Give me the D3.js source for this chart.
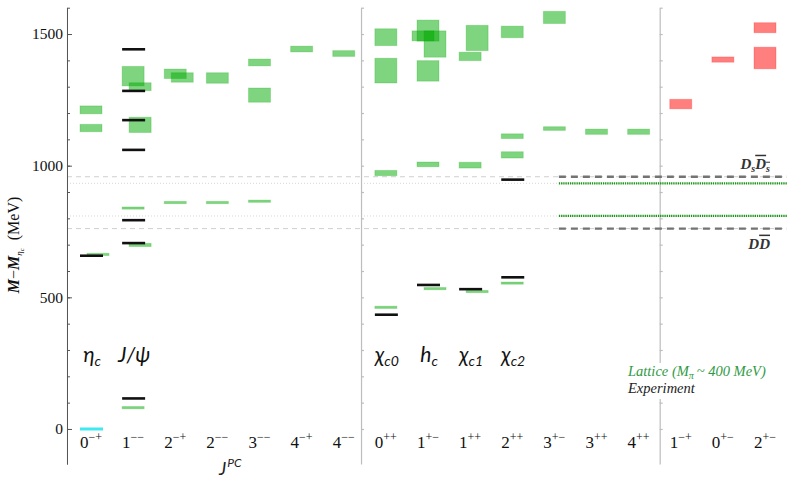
<!DOCTYPE html>
<html>
<head>
<meta charset="utf-8">
<script src="https://cdn.jsdelivr.net/npm/d3@7"></script>
<style>
  body { margin: 0; background: #fff; }
  svg { display: block; }
  .serif { font-family: "Liberation Serif", "Times New Roman", Times, serif; }
  .sans { font-family: Lato, "Open Sans", sans-serif; }
</style>
</head>
<body>
<svg id="chart" width="787" height="482"></svg>
<script>
// J^PC channels, left to right; dividers follow the last entry of each panel
const categories = ["0-+","1--","2-+","2--","3--","4-+","4--",
                    "0++","1+-","1++","2++","3+-","3++","4++",
                    "1-+","0+-","2+-"];
const panelEnds = ["4--","4++"];

// Experimental masses, M - M(eta_c) in MeV
const experiment = [
  ["0-+",658],
  ["1--",116],["1--",706],["1--",793],["1--",1060],["1--",1173],["1--",1284],["1--",1442],
  ["0++",434],["1+-",547],["1++",531],["2++",576],["2++",947]
];
const groundState = [["0-+",0]];

// Lattice masses [J^PC, mass, uncertainty] in MeV
const lattice = [
  ["0-+",1212,15],["0-+",1143,14],["0-+",663,2],
  ["1--",1340,37],["1--",1300,15],["1--",1155,29],["1--",839,4],["1--",699,6],["1--",81,1.5],
  ["2-+",1349,18],["2-+",1335,18],["2-+",860,4],
  ["2--",1333,20],["2--",860,4],
  ["3--",1392,13],["3--",1268,27],["3--",865,4],
  ["4-+",1443,11],
  ["4--",1426,11],
  ["0++",1488,32],["0++",1361,47],["0++",972,10],["0++",462,2],
  ["1+-",1513,40],["1+-",1462,50],["1+-",1493,19],["1+-",1360,39],["1+-",1005,9],["1+-",533,2],
  ["1++",1415,16],["1++",1485,48],["1++",1002,11],["1++",522,2],
  ["2++",1508,22],["2++",1112,9],["2++",1041,12],["2++",554,2],
  ["3+-",1563,23],["3+-",1141,7],
  ["3++",1129,10],
  ["4++",1129,10]
];
// Exotic J^PC lattice states
const exotics = [["1-+",1234,18],["0+-",1403,10],["2+-",1524,19],["2+-",1409,41]];

// Names written under the low-lying states: [J^PC, symbol, subscript]
const stateNames = [["0-+","η","c"],["1--","J/ψ",""],["0++","χ","c0"],["1+-","h","c"],["1++","χ","c1"],["2++","χ","c2"]];

// Open-charm thresholds (experiment) and their lattice counterparts
const thresholds = [["D","s",958],["D","",761]];
const latticeThresholds = [933, 809];

const yTicks = [0, 500, 1000, 1500];
const yMinor = d3.range(0, 1601, 100);

// ---- layout ----
const svg = d3.select("#chart");
const x = d3.scalePoint().domain(categories).range([91, 765]);
const step = x.step();
const y = d3.scaleLinear().domain([-133, 1600]).range([464, 7.7]);
const axisX = x(categories[0]) - 0.57 * step;
const dividerFrac = [0.41, 0.5];
const BOX_W = 22, LINE_W = 23, SHIFT_R = 7, SHIFT_L = -5;
const GREEN = "rgb(0,170,0)", RED = "rgb(255,0,0)";
const disp = s => s.replace(/-/g, "\u2212");

// Displace a lattice mark sideways when it would sit on an experimental
// level or on another lattice box in the same column.
function placeMarks(list) {
  const byCol = d3.group(list, d => d[0]);
  const out = [];
  for (const [col, items] of byCol) {
    const exps = experiment.filter(e => e[0] === col).map(e => e[1]);
    const placed = [];
    for (const [c, m, e] of items) {
      const lo = m - e, hi = m + e;
      const hits = slot => placed.some(p => p.slot === slot && p.lo - 8 <= hi + 8 && lo - 8 <= p.hi + 8);
      const nearExp = exps.some(v => v >= lo - 15 && v <= hi + 15);
      let slot = 0;
      if (nearExp || hits(0)) slot = hits(1) ? -1 : 1;
      placed.push({ lo, hi, slot });
      out.push({ c, m, e, slot });
    }
  }
  return out;
}
const shiftPx = s => s === 1 ? SHIFT_R : s === -1 ? SHIFT_L : 0;

// ---- threshold guide lines across the whole plot ----
const guides = svg.append("g");
thresholds.forEach(t => guides.append("line")
  .attr("x1", axisX).attr("x2", 787).attr("y1", y(t[2])).attr("y2", y(t[2]))
  .attr("stroke", "#cfcfcf").attr("stroke-width", 1).attr("stroke-dasharray", "5,4"));
latticeThresholds.forEach(v => guides.append("line")
  .attr("x1", axisX).attr("x2", 787).attr("y1", y(v)).attr("y2", y(v))
  .attr("stroke", "#d6d6d6").attr("stroke-width", 1).attr("stroke-dasharray", "1,2"));

// ---- axes ----
const leftAxis = svg.append("g").attr("transform", `translate(${axisX},0)`);
leftAxis.call(d3.axisLeft(y).tickValues(yMinor).tickSizeInner(-3).tickSizeOuter(0).tickFormat(""));
leftAxis.call(g => g.append("g").call(d3.axisLeft(y).tickValues(yTicks).tickFormat(d3.format("d"))
  .tickSizeInner(-5).tickSizeOuter(0).tickPadding(4)));
leftAxis.selectAll("path,line").attr("stroke", "#555").attr("stroke-width", 1);
leftAxis.selectAll("g").attr("font-family", null);
leftAxis.attr("font-family", null);
leftAxis.selectAll("text").attr("class", "serif").attr("font-size", 15.5).attr("fill", "#111");

panelEnds.forEach((c, i) => {
  const px = x(c) + dividerFrac[i] * step;
  const g = svg.append("g").attr("transform", `translate(${px},0)`);
  g.call(d3.axisLeft(y).tickValues(yMinor).tickSizeInner(-3).tickSizeOuter(0).tickFormat(""));
  g.selectAll("path,line").attr("stroke", "#bdbdbd").attr("stroke-width", 1.2);
});

// ---- lattice boxes ----
function drawBoxes(list, color) {
  const hgt = d => Math.max(y(d.m - d.e) - y(d.m + d.e), 2.2);
  svg.append("g").selectAll("rect").data(placeMarks(list)).join("rect")
    .attr("x", d => x(d.c) - BOX_W / 2 + shiftPx(d.slot))
    .attr("width", BOX_W)
    .attr("y", d => y(d.m) - hgt(d) / 2)
    .attr("height", hgt)
    .attr("fill", color).attr("fill-opacity", 0.5)
    .attr("stroke", color).attr("stroke-opacity", 0.22).attr("stroke-width", 1);
}
drawBoxes(lattice, GREEN);
drawBoxes(exotics, RED);

// ---- experimental levels ----
svg.append("g").selectAll("line").data(experiment).join("line")
  .attr("x1", d => x(d[0]) - BOX_W / 2).attr("x2", d => x(d[0]) - BOX_W / 2 + LINE_W)
  .attr("y1", d => y(d[1])).attr("y2", d => y(d[1]))
  .attr("stroke", "#111").attr("stroke-width", 2.6);
svg.append("g").selectAll("line").data(groundState).join("line")
  .attr("x1", d => x(d[0]) - BOX_W / 2).attr("x2", d => x(d[0]) - BOX_W / 2 + LINE_W)
  .attr("y1", d => y(d[1])).attr("y2", d => y(d[1]))
  .attr("stroke", "#3fe9f2").attr("stroke-width", 3);

// ---- thresholds in the right-hand region ----
const thrX0 = x("3+-") + 4.5;
thresholds.forEach(t => svg.append("line")
  .attr("x1", thrX0).attr("x2", 787).attr("y1", y(t[2])).attr("y2", y(t[2]))
  .attr("stroke", "#737373").attr("stroke-width", 2.4).attr("stroke-dasharray", "7,5"));
latticeThresholds.forEach(v => svg.append("line")
  .attr("x1", thrX0).attr("x2", 787).attr("y1", y(v)).attr("y2", y(v))
  .attr("stroke", "#1a961a").attr("stroke-width", 2.2).attr("stroke-dasharray", "1.3,0.9"));

thresholds.forEach((t, i) => {
  const tx = svg.append("text").attr("class", "serif").attr("x", 770).attr("y", y(t[2]) + (i === 0 ? -8 : 20))
    .attr("text-anchor", "end").attr("font-style", "italic")
    .attr("font-weight", "bold").attr("font-size", 15).attr("fill", "#333");
  tx.append("tspan").text(t[0]);
  if (t[1]) tx.append("tspan").attr("font-size", 10).attr("dy", 3).text(t[1]);
  const bar = tx.append("tspan").attr("dy", t[1] ? -3 : 0).style("text-decoration", "overline");
  bar.append("tspan").text(t[0]);
  if (t[1]) bar.append("tspan").attr("font-size", 10).attr("dy", 3).text(t[1]);
});

// ---- x tick labels ----
svg.append("g").selectAll("text").data(categories).join("text")
  .attr("class", "serif")
  .attr("x", d => x(d)).attr("y", 448).attr("text-anchor", "middle")
  .attr("font-size", 17).attr("fill", "#111")
  .each(function (d) {
    const t = d3.select(this);
    t.append("tspan").text(d[0]);
    t.append("tspan").attr("font-size", 12).attr("dy", -7).text(disp(d.slice(1)));
  });

const jpc = svg.append("text").attr("class", "sans").attr("x", 219).attr("y", 475)
  .attr("font-style", "italic").attr("font-size", 18).attr("fill", "#222");
jpc.append("tspan").text("J");
jpc.append("tspan").attr("font-size", 12).attr("dy", -8).attr("dx", 1).text("PC");

// ---- state names ----
svg.append("g").selectAll("text").data(stateNames).join("text")
  .attr("class", "sans")
  .attr("x", d => x(d[0]) + 1).attr("y", 362).attr("text-anchor", "middle")
  .attr("font-style", "italic").attr("font-size", 21).attr("fill", "#111")
  .each(function (d) {
    const t = d3.select(this);
    t.append("tspan").text(d[1]);
    if (d[2]) t.append("tspan").attr("font-size", 14).attr("dy", 4).text(d[2]);
  });

// ---- y axis title ----
const yt = svg.append("text").attr("class", "serif").attr("transform", "translate(19,245) rotate(-90)")
  .attr("text-anchor", "middle").attr("font-size", 16).attr("fill", "#111");
yt.append("tspan").attr("font-style", "italic").attr("font-weight", "bold").text("M");
yt.append("tspan").text("\u2212");
yt.append("tspan").attr("font-style", "italic").attr("font-weight", "bold").text("M");
yt.append("tspan").attr("font-size", 9).attr("dy", 3).attr("font-style", "italic").text("η");
yt.append("tspan").attr("font-size", 7).attr("dy", 1.5).attr("font-style", "italic").text("c");
yt.append("tspan").attr("dy", -4.5).text("\u2002(MeV)");

// ---- legend ----
const lg = svg.append("g");
lg.append("rect").attr("x", 624).attr("y", 363).attr("width", 148).attr("height", 36).attr("fill", "#fff");
const l1 = lg.append("text").attr("class", "serif").attr("x", 628).attr("y", 376)
  .attr("font-style", "italic").attr("font-size", 14.5).attr("fill", "#2f9a45");
l1.append("tspan").text("Lattice (M");
l1.append("tspan").attr("font-size", 10).attr("dy", 3).text("π");
l1.append("tspan").attr("dy", -3).text("\u2009~ 400 MeV)");
lg.append("text").attr("class", "serif").attr("x", 628).attr("y", 393)
  .attr("font-style", "italic").attr("font-size", 14.5).attr("fill", "#222")
  .text("Experiment");
</script>
</body>
</html>
